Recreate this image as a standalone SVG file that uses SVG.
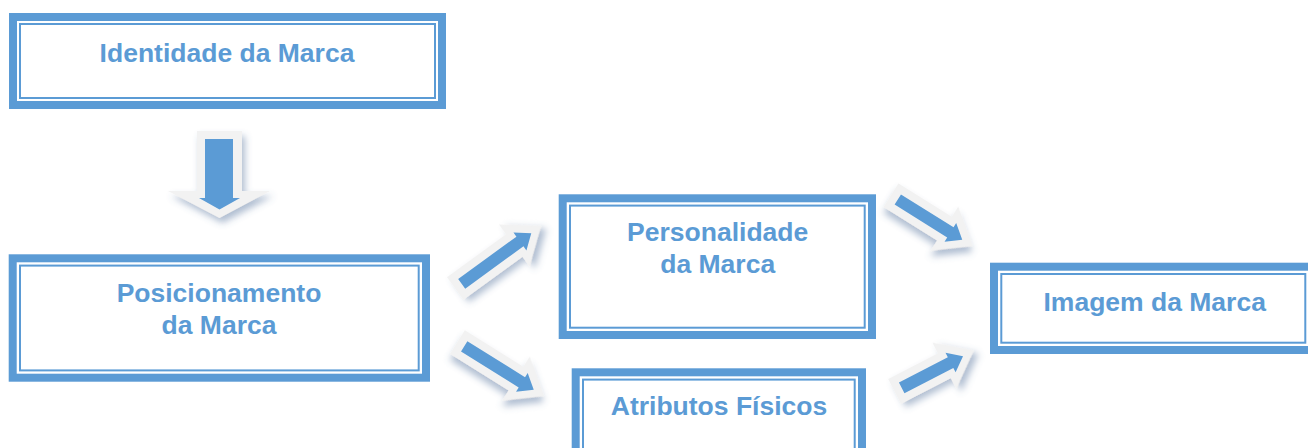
<svg xmlns="http://www.w3.org/2000/svg" width="1308" height="448" viewBox="0 0 1308 448">
<defs>
<filter id="sh" x="-40%" y="-40%" width="180%" height="180%">
<feDropShadow dx="3" dy="5" stdDeviation="3.5" flood-color="#4F6F9A" flood-opacity="0.45"/>
</filter>
<style>
.band{fill:#fff;stroke:#5B9BD5;stroke-width:8}
.thin{fill:none;stroke:#5B9BD5;stroke-width:2}
.t{font-family:"Liberation Sans",Arial,sans-serif;font-weight:bold;font-size:26.5px;fill:#5B9BD5;text-anchor:middle}
.ag{fill:#F2F2F2;filter:url(#sh)}
.ab{fill:#5B9BD5}
</style>
</defs>
<rect width="1308" height="448" fill="#fff"/>
<g id="connectors">
<g id="down">
<polygon class="ag" points="197,131 242,131 242,191 270,191 219.5,218 168,191 197,191"/>
<polygon class="ab" points="205,139 233,139 233,198 240,198 219.5,209.5 199,198 205,198"/>
</g>
<g id="arrA" transform="translate(461.7,283.8) rotate(-36)">
<polygon class="ag" points="-8,-14 65,-14 65,-26 98,0 65,26 65,14 -8,14"/>
<polygon class="ab" points="0,-6 72,-6 72,-11 86,0 72,11 72,6 0,6"/>
</g>
<g id="arrB" transform="translate(464.2,346.3) rotate(32)">
<polygon class="ag" points="-8,-14 61,-14 61,-26 94,0 61,26 61,14 -8,14"/>
<polygon class="ab" points="0,-6 68,-6 68,-11 82,0 68,11 68,6 0,6"/>
</g>
<g id="arrC" transform="translate(897.8,199.5) rotate(32)">
<polygon class="ag" points="-8,-14 55,-14 55,-26 88,0 55,26 55,14 -8,14"/>
<polygon class="ab" points="0,-6 62,-6 62,-11 76,0 62,11 62,6 0,6"/>
</g>
<g id="arrD" transform="translate(901.7,387.8) rotate(-27.3)">
<polygon class="ag" points="-8,-14 48,-14 48,-26 81,0 48,26 48,14 -8,14"/>
<polygon class="ab" points="0,-6 55,-6 55,-11 69,0 55,11 55,6 0,6"/>
</g>
</g>
<g id="identidade">
<rect class="band" x="13" y="17" width="429" height="88"/>
<rect class="thin" x="20" y="24" width="415" height="74"/>
<text class="t" x="227" y="62">Identidade da Marca</text>
</g>
<g id="posicionamento">
<rect class="band" x="12.7" y="258.3" width="413.3" height="119.4"/>
<rect class="thin" x="20" y="265.6" width="398.7" height="104.8"/>
<text class="t" x="219" y="301.7">Posicionamento</text>
<text class="t" x="219" y="334.3">da Marca</text>
</g>
<g id="personalidade">
<rect class="band" x="562.7" y="198.3" width="309.3" height="136.7"/>
<rect class="thin" x="570" y="205.6" width="294.7" height="122.1"/>
<text class="t" x="717.7" y="241">Personalidade</text>
<text class="t" x="717.7" y="273.3">da Marca</text>
</g>
<g id="atributos">
<rect class="band" x="575.7" y="372.3" width="286.3" height="90"/>
<rect class="thin" x="583" y="379.6" width="271.7" height="75"/>
<text class="t" x="719" y="415">Atributos Físicos</text>
</g>
<g id="imagem">
<rect class="band" x="994" y="266.7" width="320" height="83.3"/>
<rect class="thin" x="1001.3" y="274" width="304" height="68.7"/>
<text class="t" x="1154.7" y="310.7">Imagem da Marca</text>
</g>
</svg>
